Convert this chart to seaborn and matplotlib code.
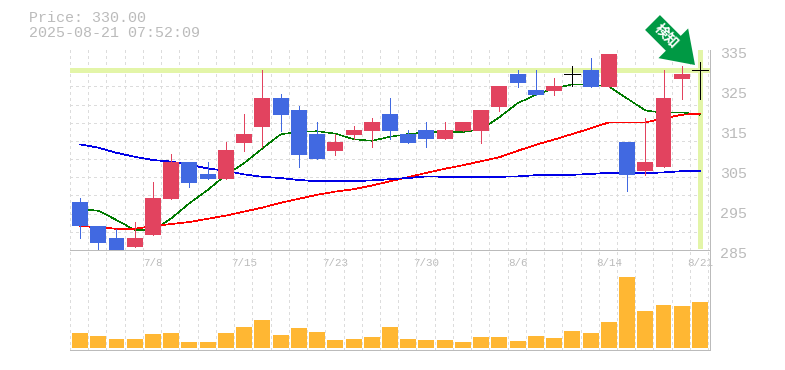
'''

Daily candles with moving averages and volume

'''
import matplotlib
matplotlib.use('Agg')
import matplotlib.pyplot as plt
from matplotlib.patches import FancyArrow
from matplotlib.transforms import ScaledTranslation
import numpy as np
import pandas as pd
import seaborn as sns

# --- price data
opens = [297, 291, 288, 285.8, 288.8, 297.8, 307, 304, 302.8, 311.8, 315.8, 323, 320, 314, 309.8, 313.8, 314.8, 319,
         314, 315, 312.8, 314.8, 314.8, 320.8, 329, 325, 324.8, 329, 330, 325.8, 312, 304.8, 305.8, 327.8, 330]
closes = [291, 286.8, 285, 288, 298, 307, 301.8, 302.8, 310, 314, 323, 318.8, 308.8, 307.8, 312, 315, 317, 314.8,
          311.8, 312.8, 315, 317, 320, 326, 326.8, 323.8, 326, 329, 325.8, 334, 303.8, 307, 323, 329, 330]
highs = [298, 291, 290.2, 292, 302, 309, 307, 307, 312, 319, 330, 324, 321, 317, 314, 316, 318, 323,
         315, 317, 317, 317, 320, 326, 330, 330, 328, 331, 333, 334, 312, 318, 330, 331, 332]
lows = [288, 285, 285, 285.8, 288.8, 297.8, 300.8, 302.8, 302.8, 309.8, 310.8, 314.8, 305.8, 307.8, 308.8, 312.8, 310.8, 312.8,
        311.8, 310.8, 312.8, 314.8, 311.8, 319.8, 325.8, 323.8, 323.8, 326, 325.8, 325.8, 299.8, 303.8, 305.8, 322.8, 322.8]

# --- moving averages
ma_short = [295.3, 294.8, 292.5, 290, 289.9, 292.9, 296.7, 300, 303.8, 306.7, 310.4, 313.9, 314.6, 314.7, 314.1, 312.7, 312.3, 313.3,
            314, 314.4, 314.5, 314.5, 315.2, 318.2, 321.7, 323.8, 325.4, 326.4, 326.4, 325.9, 322.9, 319.9, 319.3, 319.4, 318.8]
ma_mid = [291, 290.7, 290.3, 290.3, 291, 291.5, 292, 292.8, 293.6, 294.6, 295.6, 296.8, 297.8, 298.8, 299.6, 300.2, 301.1, 302.2,
          303.2, 304.3, 305.3, 306.2, 307.2, 308.2, 309.8, 311.3, 312.6, 314, 315.4, 316.9, 316.9, 316.9, 317.9, 318.8, 319.1]
ma_long = [311.4, 310.6, 309.3, 308.3, 307.5, 307.1, 306.3, 305.4, 304.8, 303.9, 303.3, 303, 302.5, 302.2, 302.2, 302.2, 302.4, 302.7,
           303, 303.4, 303.3, 303.2, 303.2, 303.3, 303.4, 303.7, 303.7, 303.8, 304, 304.3, 304.2, 304.2, 304.4, 304.7, 304.7]

# --- volume
volume = [15, 12, 9, 9, 14, 15, 6, 6, 15, 21, 28, 13, 20, 16, 8, 9, 11, 21,
          9, 8, 8, 6, 11, 11, 7, 12, 10, 17, 15, 26, 71, 37, 43, 42, 46]

tick_pos = [4, 9, 14, 19, 24, 29, 34]
tick_labels = ['7/8', '7/15', '7/23', '7/30', '8/6', '8/14', '8/21']
price_ticks = [285, 295, 305, 315, 325, 335]
last_price = 330

GREY = '#bbbbbb'
GRID = '#dcdcdc'
UP = '#e2435f'
DOWN = '#4169e1'
MARK = '#e3f5a8'
FONT = 'Liberation Mono'

sns.set_style('white')
plt.rcParams['font.family'] = [FONT, 'Noto Sans CJK JP', 'DejaVu Sans']

df = pd.DataFrame({'i': range(len(opens)), 'open': opens, 'close': closes, 'high': highs, 'low': lows,
                   'ma_short': ma_short, 'ma_mid': ma_mid, 'ma_long': ma_long, 'volume': volume})

fig = plt.figure(figsize=(7.85, 3.7), dpi=100)
ax = fig.add_axes([70 / 785, 120 / 370, 640 / 785, 200 / 370])
ax_vol = fig.add_axes([70 / 785, 20 / 370, 640 / 785, 100 / 370])
ax_vol.patch.set_visible(False)

xlim = (-0.55, 34.55)
grid_x = np.arange(36) - 0.55
dash = (0, (4, 4.5))

# --- grid, same frame on both panels
for a in (ax, ax_vol):
    a.set_xlim(xlim)
    a.set_xticks(grid_x, minor=True)
    a.grid(True, which='minor', axis='x', color=GRID, ls=dash, lw=0.5, antialiased=False)
    a.set_axisbelow(True)
    for side in ('top', 'left'):
        a.spines[side].set_visible(False)
    for side in ('right', 'bottom'):
        a.spines[side].set_color(GREY)
        a.spines[side].set_linewidth(0.5)
        a.spines[side].set_antialiased(False)
    a.tick_params(which='both', length=0)

ax.set_ylim(285, 335)
ax.set_yticks(np.linspace(285, 335, 12), minor=True)
ax.grid(True, which='minor', axis='y', color=GRID, ls=dash, lw=0.5, antialiased=False)

# --- last price markers
ax.axhline(last_price, color=MARK, lw=2.3, zorder=1.5, antialiased=False)
ax.plot([34, 34], [285.5, 335], color=MARK, lw=2.3, zorder=1.5, solid_capstyle='butt', antialiased=False)

# --- moving averages
sns.lineplot(data=df, x='i', y='ma_short', color='#007a00', lw=0.35, ax=ax, zorder=2, antialiased=False)
sns.lineplot(data=df, x='i', y='ma_mid', color='#ff0000', lw=0.5, ax=ax, zorder=2, antialiased=False)
sns.lineplot(data=df, x='i', y='ma_long', color='#0000e6', lw=0.5, ax=ax, zorder=2, antialiased=False)

# --- candles
for row in df.itertuples():
    if row.close == row.open:
        colour = 'black'
    elif row.close > row.open:
        colour = UP
    else:
        colour = DOWN
    ax.vlines(row.i, row.low, row.high, color=colour, lw=0.5, zorder=3, antialiased=False)
    if row.close == row.open:
        ax.hlines(row.close, row.i - 0.44, row.i + 0.44, color=colour, lw=0.5, zorder=3, antialiased=False)
    else:
        ax.bar(row.i, abs(row.close - row.open), bottom=min(row.open, row.close), width=0.877,
               color=colour, zorder=3, linewidth=0)

ax.set_xticks(tick_pos, tick_labels)
ax.set_xlabel('')
ax.set_ylabel('')
ax.tick_params(axis='x', which='major', labelsize=7.8, labelcolor=GREY, pad=6, length=0)
ax.yaxis.tick_right()
ax.set_yticks(price_ticks, [str(p) for p in price_ticks])
ax.tick_params(axis='y', which='major', labelsize=10.8, labelcolor=GREY, pad=7, length=0)
shift = ScaledTranslation(0, -1.5 / 72, fig.dpi_scale_trans)
for label in ax.get_yticklabels():
    label.set_transform(label.get_transform() + shift)

# --- volume panel
sns.barplot(data=df, x='i', y='volume', native_scale=True, color='#ffb733', width=0.877,
            saturation=1, linewidth=0, ax=ax_vol, zorder=3)
ax_vol.set_xlim(xlim)
ax_vol.set_ylim(-2.3, 97.7)
ax_vol.set_xticks([])
ax_vol.set_xticks(grid_x, minor=True)
ax_vol.set_yticks([])
ax_vol.set_xlabel('')
ax_vol.set_ylabel('')

# --- header
fig.text(29 / 785, 1 - 18 / 370, f'Price: {last_price:.2f}', color=GREY, fontsize=10.8, va='center')
fig.text(29 / 785, 1 - 33 / 370, '2025-08-21 07:52:09', color=GREY, fontsize=10.8, va='center')

# --- signal arrow, placed in pixels
H = 370
arrow = FancyArrow(652.5, H - 22.5, 42.5, -42.5, width=21, head_width=42, head_length=30.7,
                   length_includes_head=True, color='#009944', lw=0, transform=None, zorder=5)
fig.add_artist(arrow)
fig.text(666 / 785, 1 - 36.5 / 370, '検知', color='white', fontsize=10, fontweight='bold', rotation=-45,
         ha='center', va='center', rotation_mode='anchor', family=['Noto Sans CJK JP', 'DejaVu Sans'], zorder=6)

fig.savefig('out.png', dpi=100)
